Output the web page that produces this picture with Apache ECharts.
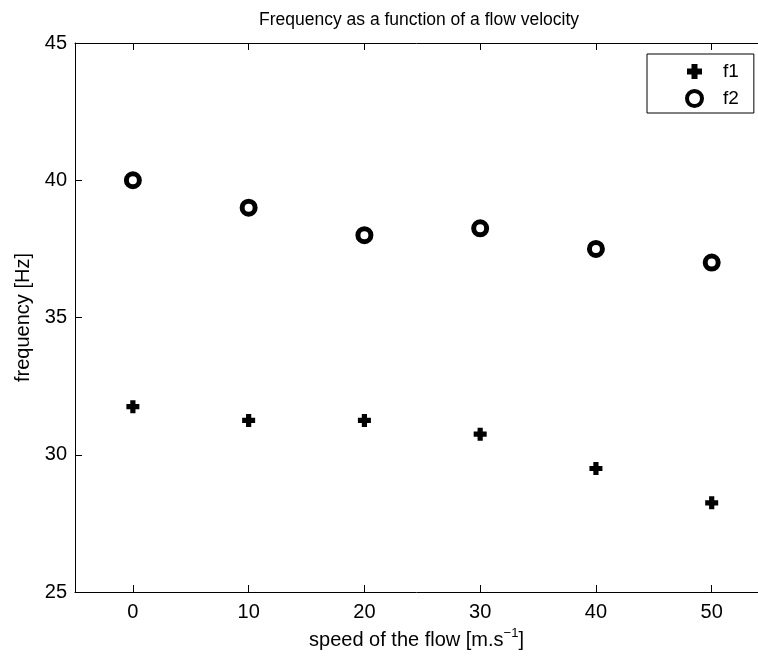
<!DOCTYPE html>
<html>
<head>
<meta charset="utf-8">
<script src="https://cdn.jsdelivr.net/npm/echarts@6/dist/echarts.min.js"></script>
<style>
html,body{margin:0;padding:0;background:#fff;}
#chart{width:758px;height:657px;}
</style>
</head>
<body>
<div id="chart"></div>
<script>
var speeds = [0, 10, 20, 30, 40, 50];
var f1 = [31.75, 31.25, 31.25, 30.75, 29.5, 28.25];
var f2 = [40, 39, 38, 38.25, 37.5, 37];
var xTicks = [0, 10, 20, 30, 40, 50];
var yTicks = [25, 30, 35, 40, 45];

var FONT = 'Liberation Sans, Arial, Helvetica, sans-serif';
var plusPath = 'path://M3,0 L7,0 L7,3 L10,3 L10,7 L7,7 L7,10 L3,10 L3,7 L0,7 L0,3 L3,3 Z';

function pairs(xs, ys) { return xs.map(function (x, i) { return [x, ys[i]]; }); }

var chart = echarts.init(document.getElementById('chart'), null, {renderer: 'canvas'});
var axisLineStyle = {color: '#000', width: 1};
chart.setOption({
  animation: false,
  backgroundColor: '#fff',
  title: {
    text: 'Frequency as a function of a flow velocity',
    left: 414, top: 6, textAlign: 'center',
    textStyle: {fontFamily: FONT, fontSize: 17.5, fontWeight: 'normal', color: '#000'}
  },
  legend: {
    orient: 'vertical',
    left: 647, top: 54,
    padding: [8, 15, 5, 38],
    itemGap: 8,
    itemWidth: 15, itemHeight: 15,
    borderColor: '#000', borderWidth: 1,
    backgroundColor: '#fff',
    textStyle: {fontFamily: FONT, fontSize: 19, color: '#000', padding: [0, 0, 0, 16]},
    data: [
      {name: 'f1', itemStyle: {color: '#000', opacity: 1}},
      {name: 'f2', itemStyle: {color: '#fff', borderColor: '#000', borderWidth: 4, opacity: 1}}
    ]
  },
  grid: {left: 75, top: 43, right: 0, height: 549, containLabel: false},
  xAxis: [{
    type: 'value', min: -5, max: 54, position: 'bottom',
    name: '{a|speed of the flow [m.s}{b|\u22121}{a|]}',
    nameLocation: 'middle', nameGap: 35,
    nameTextStyle: {
      rich: {
        a: {fontFamily: FONT, fontSize: 20, color: '#000', lineHeight: 26},
        b: {fontFamily: FONT, fontSize: 13, color: '#000', verticalAlign: 'top', lineHeight: 13}
      }
    },
    axisLine: {show: true, onZero: false, lineStyle: axisLineStyle},
    axisTick: {show: true, inside: true, length: 7, customValues: xTicks, lineStyle: axisLineStyle},
    axisLabel: {show: true, customValues: xTicks, margin: 10, fontFamily: FONT, fontSize: 20, color: '#000'},
    splitLine: {show: false}
  }, {
    type: 'value', min: -5, max: 54, position: 'top',
    axisLine: {show: true, onZero: false, lineStyle: axisLineStyle},
    axisTick: {show: true, inside: true, length: 7, customValues: xTicks, lineStyle: axisLineStyle},
    axisLabel: {show: false},
    splitLine: {show: false}
  }],
  yAxis: [{
    type: 'value', min: 25, max: 45, interval: 5, position: 'left',
    name: 'frequency [Hz]', nameLocation: 'middle', nameGap: 39, nameRotate: 90,
    nameTextStyle: {fontFamily: FONT, fontSize: 20, color: '#000'},
    axisLine: {show: true, onZero: false, lineStyle: axisLineStyle},
    axisTick: {show: true, inside: true, length: 7, lineStyle: axisLineStyle},
    axisLabel: {show: true, margin: 8, fontFamily: FONT, fontSize: 20, color: '#000'},
    splitLine: {show: false}
  }],
  series: [{
    name: 'f1', type: 'scatter', xAxisIndex: 0, yAxisIndex: 0,
    symbol: plusPath, symbolSize: 13,
    itemStyle: {color: '#000', opacity: 1},
    data: pairs(speeds, f1)
  }, {
    name: 'f2', type: 'scatter', xAxisIndex: 0, yAxisIndex: 0,
    symbol: 'circle', symbolSize: 13,
    itemStyle: {color: '#fff', borderColor: '#000', borderWidth: 5, opacity: 1},
    data: pairs(speeds, f2)
  }]
});
</script>
</body>
</html>
